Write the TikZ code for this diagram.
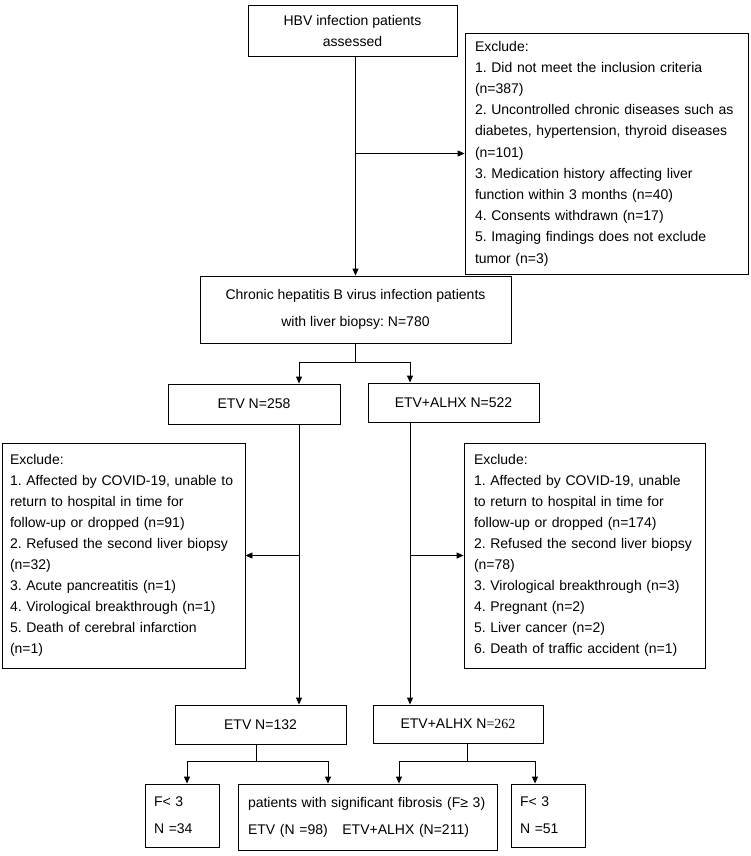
\documentclass[tikz,border=0pt]{standalone}
\usepackage{fontspec}
\setmainfont{Liberation Sans}
\newfontfamily\serifnum{Liberation Serif}
\usetikzlibrary{positioning, arrows.meta, calc}
\tikzset{
  block/.style={
    draw,
    rectangle,
    line width=0.9pt,
    inner sep=0pt,
    align=center,
    font=\fontsize{14}{21}\selectfont\frenchspacing
  },
  exclude/.style={
    block,
    align=left,
    inner xsep=10pt
  },
  flow/.style={
    line width=0.9pt,
    -{Triangle[length=7pt, width=6pt]}
  }
}

\begin{document}
\begin{tikzpicture}[x=1pt, y=-1pt]
    \useasboundingbox (0,0) rectangle (750,856);
    \node[block, minimum width=209pt, minimum height=51pt] (hbv) at (352.5,30.5) {HBV infection patients\\assessed};
    \node[exclude, text width=263pt, minimum height=241pt, font=\fontsize{14}{21.2}\selectfont\frenchspacing] (excl1) at (606.5,153.5) {Exclude:\\1. Did not meet the inclusion criteria\\(n=387)\\2. Uncontrolled chronic diseases such as\\diabetes, hypertension, thyroid diseases\\(n=101)\\3. Medication history affecting liver\\function within 3 months (n=40)\\4. Consents withdrawn (n=17)\\5. Imaging findings does not exclude\\tumor (n=3)};
    \node[block, minimum width=311pt, minimum height=67pt] (chb) at (355.5,309.5) {Chronic hepatitis B virus infection patients\\[6pt]with liver biopsy: N=780};
    \node[block, minimum width=172pt, minimum height=40pt] (etv) at (254,404) {ETV N=258};
    \node[block, minimum width=171pt, minimum height=39pt] (alhx) at (453.5,402.5) {ETV+ALHX N=522};
    \node[exclude, inner xsep=8pt, text width=227pt, minimum height=225pt] (exclL) at (123.5,555.5) {Exclude:\\1. Affected by COVID-19, unable to\\return to hospital in time for\\follow-up or dropped (n=91)\\2. Refused the second liver biopsy\\(n=32)\\3. Acute pancreatitis (n=1)\\4. Virological breakthrough (n=1)\\5. Death of cerebral infarction\\(n=1)};
    \node[exclude, text width=221pt, minimum height=225pt] (exclR) at (584.5,555.5) {Exclude:\\1. Affected by COVID-19, unable\\to return to hospital in time for\\follow-up or dropped (n=174)\\2. Refused the second liver biopsy\\(n=78)\\3. Virological breakthrough (n=3)\\4. Pregnant (n=2)\\5. Liver cancer (n=2)\\6. Death of traffic accident (n=1)};
    \node[block, minimum width=171pt, minimum height=39pt] (etvend) at (260.5,724.5) {ETV N=132};
    \node[block, minimum width=170pt, minimum height=38pt] (alhxend) at (458,724) {ETV+ALHX N{\serifnum=262}};
    \node[exclude, inner xsep=9pt, text width=56pt, minimum height=63pt] (lowL) at (182,815.5) {F< 3\\[6pt]N =34};
    \node[exclude, text width=239pt, minimum height=66pt] (signif) at (367.5,817) {patients with significant fibrosis (F≥ 3)\\[6pt]ETV (N =98)\hspace{10pt} ETV+ALHX (N=211)};
    \node[exclude, inner xsep=9pt, text width=56pt, minimum height=63pt] (lowR) at (548,815.5) {F< 3\\[6pt]N =51};

    \coordinate (colL) at (299,0);
    \coordinate (colR) at (410,0);

    \draw[flow] (chb.north |- hbv.south) -- (chb.north);
    \draw[flow] (chb.north |- excl1.west) -- (excl1.west);
    \draw[line width=0.9pt] (chb.south) -- ++(0,19) coordinate (split1);
    \draw[flow] (split1) -| (colL |- etv.north);
    \draw[flow] (split1) -| (colR |- alhx.north);
    \draw[flow] (colL |- etv.south) -- (colL |- etvend.north);
    \draw[flow] (colL |- exclL.east) -- (exclL.east);
    \draw[flow] (colR |- alhx.south) -- (colR |- alhxend.north);
    \draw[flow] (colR |- exclR.west) -- (exclR.west);
    \draw[line width=0.9pt] ([xshift=-4.5pt]etvend.south) -- ++(0,17) coordinate (split2);
    \draw[flow] (split2) -| ([xshift=5pt]lowL.north);
    \draw[flow] (split2) -| ([xshift=-39.5pt]signif.north);
    \draw[line width=0.9pt] ([xshift=9pt]alhxend.south) -- ++(0,18) coordinate (split3);
    \draw[flow] (split3) -| ([xshift=31.5pt]signif.north);
    \draw[flow] (split3) -| ([xshift=-13pt]lowR.north);
\end{tikzpicture}
\end{document}
